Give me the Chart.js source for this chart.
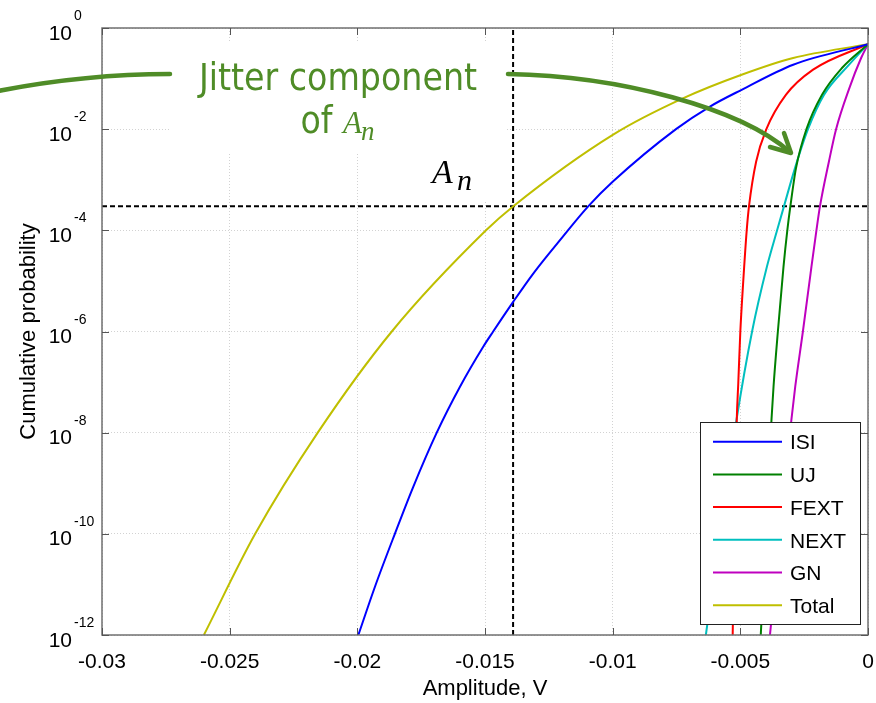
<!DOCTYPE html>
<html>
<head>
<meta charset="utf-8">
<script src="https://cdn.jsdelivr.net/npm/chart.js@4/dist/chart.umd.min.js"></script>
<style>
  html,body{margin:0;padding:0;background:#fff;}
  canvas{display:block;}
</style>
</head>
<body>
<canvas id="c" width="876" height="703"></canvas>
<script>
// ---------- data ----------
const xTicks = [-0.03, -0.025, -0.02, -0.015, -0.01, -0.005, 0];
const xTickLabels = ['-0.03', '-0.025', '-0.02', '-0.015', '-0.01', '-0.005', '0'];
const yTicks = [1e-12, 1e-10, 1e-8, 1e-6, 1e-4, 1e-2, 1];
const yTickExps = ['-12', '-10', '-8', '-6', '-4', '-2', '0'];

const seriesNames = ['ISI', 'UJ', 'FEXT', 'NEXT', 'GN', 'Total'];

const isiX = [-0.01996, -0.01931, -0.01853, -0.01781, -0.01689, -0.01598, -0.01507, -0.01468, -0.01389, -0.01311, -0.01195, -0.01095, -0.00998, -0.00752, -0.00619, -0.00495, -0.00293, 0];
const isiP = [1e-12, 9e-12, 1e-10, 8.5e-10, 1e-8, 8.1e-8, 5e-7, 1e-6, 3.9e-6, 1.4e-5, 7.5e-5, 3e-4, 9.3e-4, 1e-2, 2.8e-2, 6e-2, 0.188, 0.48];

const ujX = [-0.00420, -0.00400, -0.00378, -0.00370, -0.00353, -0.00331, -0.00316, -0.00304, -0.00282, -0.00241, -0.00180, -0.00102, 0];
const ujP = [1e-12, 1e-10, 1.8e-8, 8.1e-8, 1e-6, 1.9e-5, 1e-4, 3e-4, 1.7e-3, 1e-2, 4.8e-2, 0.162, 0.48];

const fextX = [-0.00530, -0.00523, -0.00514, -0.00508, -0.00500, -0.00489, -0.00475, -0.00466, -0.00438, -0.00398, -0.00321, -0.00215, 0];
const fextP = [1e-12, 1e-10, 1.8e-8, 9.6e-8, 1e-6, 9.1e-6, 1e-4, 3e-4, 2.3e-3, 1e-2, 4.8e-2, 0.15, 0.48];

const nextX = [-0.00635, -0.00580, -0.00515, -0.00454, -0.00396, -0.00356, -0.00329, -0.00286, -0.00235, -0.00172, -0.00074, 0];
const nextP = [1e-12, 1e-10, 1.8e-8, 1e-6, 1.9e-5, 1e-4, 3e-4, 1.7e-3, 1e-2, 4.8e-2, 0.188, 0.48];

const gnX = [-0.00384, -0.00345, -0.00300, -0.00285, -0.00255, -0.00225, -0.00202, -0.00188, -0.00153, -0.00125, -0.00073, -0.00027, 0];
const gnP = [1e-12, 1e-10, 1.8e-8, 8.1e-8, 1e-6, 1.4e-5, 1e-4, 3e-4, 2.3e-3, 1e-2, 6.5e-2, 0.255, 0.48];

const totalX = [-0.02601, -0.02400, -0.02155, -0.01865, -0.01496, -0.01389, -0.00998, -0.00723, -0.00495, -0.00293, 0];
const totalP = [1e-12, 1e-10, 1e-8, 1e-6, 1e-4, 3.0e-4, 7.8e-3, 4.1e-2, 0.119, 0.255, 0.48];

// A_n marker (dashed cross-hair)
const anX = -0.0139;
const anP = 3.0e-4;

// ---------- styles ----------
const colors = ['#0000ff', '#008000', '#ff0000', '#00bfbf', '#bf00bf', '#bfbf00'];
const annGreen = '#4f8c27';
const tickFont = "21px 'Liberation Sans', Arial, sans-serif";
const titleFont = "22px 'Liberation Sans', Arial, sans-serif";

function pts(xs, ps) { return xs.map((x, i) => ({ x: x, y: ps[i] })); }

const curveData = [pts(isiX, isiP), pts(ujX, ujP), pts(fextX, fextP), pts(nextX, nextP), pts(gnX, gnP), pts(totalX, totalP)];

const datasets = curveData.map((d, i) => ({
  label: seriesNames[i],
  data: d,
  borderColor: colors[i],
  backgroundColor: colors[i],
  borderWidth: 2,
  pointRadius: 0,
  showLine: true,
  fill: false,
  cubicInterpolationMode: 'monotone',
  isCurve: true
}));
datasets.push({
  label: 'An-h',
  data: [{ x: xTicks[0], y: anP }, { x: xTicks[xTicks.length - 1], y: anP }],
  borderColor: '#000', borderWidth: 2, borderDash: [5, 3], pointRadius: 0, showLine: true, fill: false
});
datasets.push({
  label: 'An-v',
  data: [{ x: anX, y: yTicks[0] }, { x: anX, y: yTicks[yTicks.length - 1] }],
  borderColor: '#000', borderWidth: 2, borderDash: [5, 3], pointRadius: 0, showLine: true, fill: false
});

// ---------- custom drawing ----------
const decor = {
  id: 'decor',
  beforeDatasetsDraw(chart) {
    const ctx = chart.ctx;
    ctx.save();
    ctx.fillStyle = '#fff';
    ctx.fillRect(170, 43, 337, 110);   // backing of "Jitter component" note
    ctx.fillRect(425, 153, 67, 49);    // backing of A_n label
    ctx.restore();
  },
  afterDraw(chart) {
    const ctx = chart.ctx;
    const a = chart.chartArea;
    const xs = chart.scales.x, ys = chart.scales.y;
    ctx.save();

    // axes box
    ctx.strokeStyle = '#707070';
    ctx.lineWidth = 1.5;
    ctx.strokeRect(a.left, a.top, a.right - a.left, a.bottom - a.top);

    // inward ticks
    ctx.strokeStyle = '#555';
    ctx.lineWidth = 1;
    ctx.beginPath();
    xTicks.forEach(v => {
      const px = Math.round(xs.getPixelForValue(v)) + 0.5;
      ctx.moveTo(px, a.bottom); ctx.lineTo(px, a.bottom - 7);
      ctx.moveTo(px, a.top); ctx.lineTo(px, a.top + 7);
    });
    yTicks.forEach(v => {
      const py = Math.round(ys.getPixelForValue(v)) + 0.5;
      ctx.moveTo(a.left, py); ctx.lineTo(a.left + 7, py);
      ctx.moveTo(a.right, py); ctx.lineTo(a.right - 7, py);
    });
    ctx.stroke();

    // x tick labels
    ctx.fillStyle = '#000';
    ctx.font = tickFont;
    ctx.textAlign = 'center';
    ctx.textBaseline = 'alphabetic';
    xTicks.forEach((v, i) => {
      ctx.fillText(xTickLabels[i], xs.getPixelForValue(v), a.bottom + 33);
    });

    // y tick labels 10^k
    yTicks.forEach((v, i) => {
      const py = ys.getPixelForValue(v);
      ctx.font = tickFont;
      ctx.textAlign = 'right';
      ctx.fillText('10', 72, py + 11.5);
      ctx.font = "14px 'Liberation Sans', Arial, sans-serif";
      ctx.textAlign = 'left';
      ctx.fillText(yTickExps[i], 74, py - 8);
    });

    // axis titles
    ctx.font = titleFont;
    ctx.textAlign = 'center';
    ctx.fillText('Amplitude, V', (a.left + a.right) / 2, 695);
    ctx.save();
    ctx.translate(35, (a.top + a.bottom) / 2);
    ctx.rotate(-Math.PI / 2);
    ctx.fillText('Cumulative probability', 0, 0);
    ctx.restore();

    // legend
    const lx = 700, ly = 422, lw = 160, lh = 202;
    ctx.fillStyle = '#fff';
    ctx.fillRect(lx, ly, lw, lh);
    ctx.strokeStyle = '#222';
    ctx.lineWidth = 1;
    ctx.strokeRect(lx + 0.5, ly + 0.5, lw, lh);
    const curves = chart.data.datasets.filter(d => d.isCurve);
    curves.forEach((d, i) => {
      const ry = ly + 19.7 + i * 32.7;
      ctx.strokeStyle = d.borderColor;
      ctx.lineWidth = 2;
      ctx.beginPath();
      ctx.moveTo(713, ry); ctx.lineTo(782, ry);
      ctx.stroke();
      ctx.fillStyle = '#000';
      ctx.font = tickFont;
      ctx.textAlign = 'left';
      ctx.textBaseline = 'middle';
      ctx.fillText(d.label, 790, ry + 2);
    });
    ctx.textBaseline = 'alphabetic';

    // A_n label
    ctx.fillStyle = '#000';
    ctx.textAlign = 'left';
    ctx.font = "italic 34px 'Liberation Serif', 'DejaVu Serif', serif";
    ctx.fillText('A', 432, 183);
    ctx.font = "italic 30px 'Liberation Serif', 'DejaVu Serif', serif";
    ctx.fillText('n', 457, 190);

    // "Jitter component of A_n"
    ctx.fillStyle = annGreen;
    ctx.font = "37px 'DejaVu Sans Condensed', 'DejaVu Sans', sans-serif";
    ctx.textAlign = 'center';
    ctx.fillText('Jitter component', 338, 90);
    ctx.textAlign = 'left';
    const ofW = ctx.measureText('of ').width;
    ctx.font = "italic 31px 'Liberation Serif', 'DejaVu Serif', serif";
    const aW = ctx.measureText('A').width;
    ctx.font = "italic 27px 'Liberation Serif', 'DejaVu Serif', serif";
    const nW = ctx.measureText('n').width;
    const total = ofW + aW + nW;
    let sx = 338 - total / 2;
    ctx.font = "37px 'DejaVu Sans Condensed', 'DejaVu Sans', sans-serif";
    ctx.fillText('of ', sx, 133);
    sx += ofW;
    ctx.font = "italic 31px 'Liberation Serif', 'DejaVu Serif', serif";
    ctx.fillText('A', sx, 133);
    sx += aW - 1;
    ctx.font = "italic 27px 'Liberation Serif', 'DejaVu Serif', serif";
    ctx.fillText('n', sx, 140);

    // arrows
    ctx.strokeStyle = annGreen;
    ctx.lineWidth = 4.5;
    ctx.lineCap = 'round';
    ctx.lineJoin = 'round';
    ctx.beginPath();
    ctx.moveTo(-2, 91);
    ctx.quadraticCurveTo(85, 74, 170, 74);
    ctx.stroke();
    ctx.beginPath();
    ctx.moveTo(508, 74);
    ctx.bezierCurveTo(620, 76, 740, 108, 790, 152);
    ctx.stroke();
    ctx.beginPath();
    ctx.moveTo(770, 147);
    ctx.lineTo(791, 153);
    ctx.lineTo(784, 133);
    ctx.stroke();

    ctx.restore();
  }
};

new Chart(document.getElementById('c'), {
  type: 'scatter',
  data: { datasets: datasets },
  options: {
    responsive: false,
    animation: false,
    devicePixelRatio: 1,
    layout: { padding: { left: 102, right: 8, top: 28, bottom: 68 } },
    plugins: { legend: { display: false }, tooltip: { enabled: false } },
    scales: {
      x: {
        type: 'linear', min: xTicks[0], max: xTicks[xTicks.length - 1],
        afterBuildTicks(s) { s.ticks = xTicks.map(v => ({ value: v })); },
        afterFit(s) { s.height = 0; },
        ticks: { display: false },
        grid: { color: '#d2d2d2', lineWidth: 1, drawTicks: false },
        border: { display: false, dash: [1, 2] }
      },
      y: {
        type: 'logarithmic', min: yTicks[0], max: yTicks[yTicks.length - 1],
        afterBuildTicks(s) { s.ticks = yTicks.map(v => ({ value: v })); },
        afterFit(s) { s.width = 0; },
        ticks: { display: false },
        grid: { color: '#d2d2d2', lineWidth: 1, drawTicks: false },
        border: { display: false, dash: [1, 2] }
      }
    }
  },
  plugins: [decor]
});
</script>
</body>
</html>
